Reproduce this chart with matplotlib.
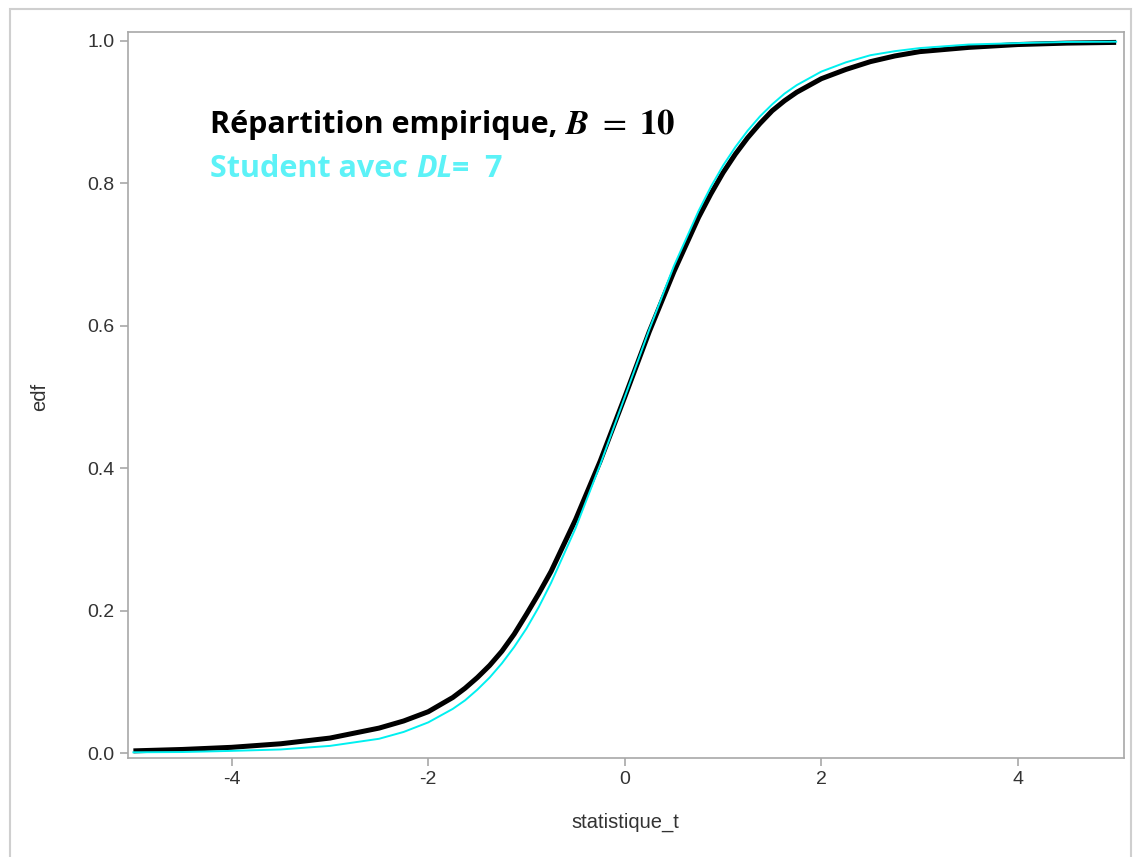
import matplotlib
matplotlib.use("Agg")
import matplotlib.pyplot as plt
from matplotlib.patches import Rectangle

# valeurs
t_vals = [-5.0, -4.5, -4.0, -3.5, -3.0, -2.5, -2.25, -2.0, -1.75, -1.625, -1.5, -1.375,
          -1.25, -1.125, -1.0, -0.875, -0.75, -0.5, -0.25, 0.0, 0.25, 0.5, 0.75, 0.875,
          1.0, 1.125, 1.25, 1.375, 1.5, 1.625, 1.75, 2.0, 2.25, 2.5, 2.75, 3.0,
          3.5, 4.0, 4.5, 5.0]
edf_empirique = [0.003, 0.005, 0.008, 0.013, 0.021, 0.035, 0.045, 0.058, 0.078, 0.091,
                 0.106, 0.123, 0.143, 0.167, 0.195, 0.224, 0.255, 0.328, 0.410, 0.500,
                 0.592, 0.676, 0.752, 0.785, 0.815, 0.841, 0.864, 0.884, 0.902, 0.916,
                 0.928, 0.947, 0.960, 0.971, 0.979, 0.985, 0.991, 0.995, 0.997, 0.998]
cdf_student = [0.001, 0.0014, 0.003, 0.005, 0.010, 0.020, 0.0296, 0.043, 0.062, 0.074,
               0.089, 0.106, 0.126, 0.149, 0.175, 0.205, 0.239, 0.316, 0.405, 0.500,
               0.595, 0.684, 0.761, 0.795, 0.825, 0.851, 0.874, 0.894, 0.911, 0.926,
               0.938, 0.957, 0.970, 0.980, 0.9857, 0.990, 0.995, 0.997, 0.9986, 0.999]
x_ticks = [-4, -2, 0, 2, 4]
y_ticks = [0.0, 0.2, 0.4, 0.6, 0.8, 1.0]

W, H = 1134, 857
fig = plt.figure(figsize=(W / 100, H / 100), dpi=100)

# cadre gris autour de la figure
fig.patches.append(Rectangle((10 / W, -0.01), (1131 - 10) / W, 1.01 - 9 / H,
                             transform=fig.transFigure, fill=False,
                             edgecolor="#cfcfcf", linewidth=1.5))

ax = fig.add_axes([128 / W, 1 - 758 / H, (1124 - 128) / W, (758 - 32) / H])
ax.plot(t_vals, edf_empirique, color="black", linewidth=3.6, solid_capstyle="butt")
ax.plot(t_vals, cdf_student, color="#00f0f0", linewidth=1.4)

ax.set_xlim(-5.055, 5.08)
ax.set_ylim(-0.007, 1.0126)
ax.set_xticks(x_ticks)
ax.set_xticklabels([str(v) for v in x_ticks])
ax.set_yticks(y_ticks)
ax.set_yticklabels(["%.1f" % v for v in y_ticks])

for s in ax.spines.values():
    s.set_color("#a8a8a8")
    s.set_linewidth(1.2)
ax.tick_params(direction="out", length=6, width=1.2, color="#a8a8a8",
               labelcolor="#333333", labelsize=14)
for lab in ax.get_xticklabels() + ax.get_yticklabels():
    lab.set_family("Liberation Sans")

fig.text(625 / W, 1 - 828 / H, "statistique_t", ha="center", va="baseline",
         fontsize=14.5, color="#333333", family="Liberation Sans")
fig.text(40 / W, 1 - 397 / H, "edf", ha="center", va="center", rotation=90,
         fontsize=14.5, color="#333333", family="Liberation Sans")

plt.rcParams["mathtext.fontset"] = "stix"
# texte en morceaux, enchainés les uns après les autres
t1 = fig.text(210 / W, 1 - 133 / H, "Répartition empirique, ", ha="left", va="baseline",
              fontsize=22, fontweight="bold", family="Open Sans", color="black")
ax.annotate(r"$\mathbfit{B}\ =\ \mathbf{10}$", xy=(1, 0), xycoords=t1,
            ha="left", va="bottom", fontsize=25, color="black")

cyan_txt = "#5cf2f7"
t2 = fig.text(210 / W, 1 - 177 / H, "Student avec ", ha="left", va="baseline",
              fontsize=22, fontweight="bold", family="Open Sans", color=cyan_txt)
t3 = ax.annotate("DL", xy=(1, 0), xycoords=t2, ha="left", va="bottom",
                 fontsize=22, fontweight="bold", style="italic", family="Open Sans",
                 color=cyan_txt)
ax.annotate("=  7", xy=(1, 0), xycoords=t3, ha="left", va="bottom",
            fontsize=22, fontweight="bold", family="Open Sans", color=cyan_txt)

fig.savefig("out.png", dpi=100)
